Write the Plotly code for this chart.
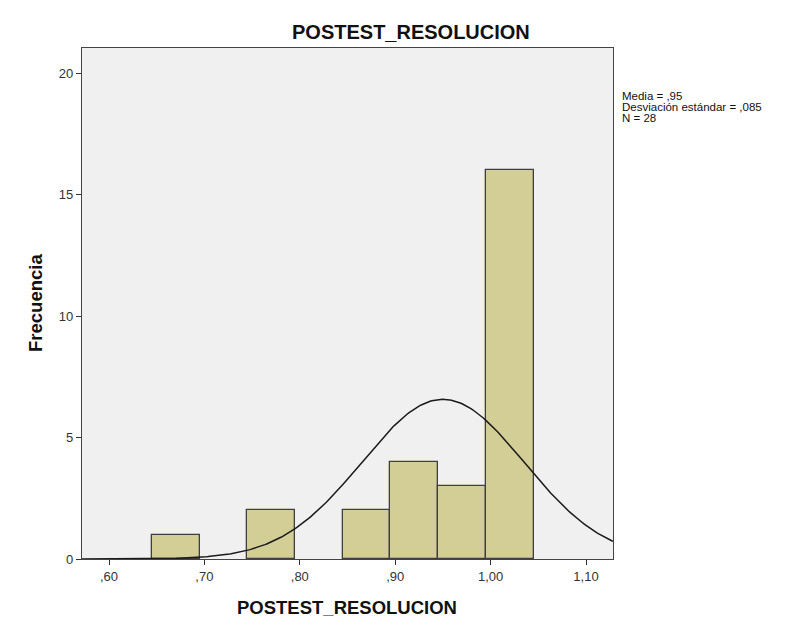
import numpy as np
import plotly.graph_objects as go

# Data
bin_centers = [0.67, 0.77, 0.87, 0.92, 0.97, 1.02]
counts = [1, 2, 2, 4, 3, 16]
bin_width = 0.05
mean_val = 0.95
sd_val = 0.085
n_val = 28
x_tickvals = [0.60, 0.70, 0.80, 0.90, 1.00, 1.10]
x_ticktext = [",60", ",70", ",80", ",90", "1,00", "1,10"]
y_tickvals = [0, 5, 10, 15, 20]
x_range = [0.5717, 1.1283]
y_range = [0, 21.03]
stat_lines = ["Media = ,95", "Desviación estándar = ,085", "N = 28"]

# Fitted normal curve from the reported statistics
xc = np.linspace(x_range[0], x_range[1], 300)
yc = n_val * bin_width / (sd_val * np.sqrt(2 * np.pi)) * np.exp(-0.5 * ((xc - mean_val) / sd_val) ** 2)

L, R, T, B = 82, 193, 48, 75
W, H = 806, 634
pw, ph = W - L - R, H - T - B

fig = go.Figure()
fig.add_trace(go.Bar(
    x=bin_centers, y=counts, width=bin_width,
    marker=dict(color="#D2CE96", line=dict(color="#3F3F3F", width=1.3)),
    hoverinfo="x+y",
))
fig.add_trace(go.Scatter(
    x=xc, y=yc, mode="lines",
    line=dict(color="#1A1A1A", width=1.5), hoverinfo="skip",
))

fig.update_layout(
    width=W, height=H,
    margin=dict(l=L, r=R, t=T, b=B),
    paper_bgcolor="white", plot_bgcolor="#F0F0F0",
    showlegend=False, bargap=0,
    font=dict(family="Arial, Liberation Sans, sans-serif", color="#222222"),
    xaxis=dict(
        range=x_range, tickvals=x_tickvals, ticktext=x_ticktext,
        ticks="outside", ticklen=5, tickwidth=1.3, tickcolor="#333333",
        showgrid=False, zeroline=False,
        showline=True, linecolor="#444444", linewidth=1.3, mirror=True,
        tickfont=dict(size=13, color="#333333"),
    ),
    yaxis=dict(
        range=y_range, tickvals=y_tickvals,
        ticks="outside", ticklen=5, tickwidth=1.3, tickcolor="#333333",
        showgrid=False, zeroline=False,
        showline=True, linecolor="#444444", linewidth=1.3, mirror=True,
        tickfont=dict(size=13, color="#333333"),
    ),
)

def px_x(px):
    return (px - L) / pw

def px_y(py):
    return 1 - (py - T) / ph

# Chart title
fig.add_annotation(
    xref="paper", yref="paper", x=px_x(411), y=px_y(32),
    xanchor="center", yanchor="middle",
    text="<b>POSTEST_RESOLUCION</b>", showarrow=False,
    font=dict(size=20, color="#111111"),
)
# X axis title
fig.add_annotation(
    xref="paper", yref="paper", x=px_x(347), y=px_y(607),
    xanchor="center", yanchor="middle",
    text="<b>POSTEST_RESOLUCION</b>", showarrow=False,
    font=dict(size=18.5, color="#111111"),
)
# Y axis title
fig.add_annotation(
    xref="paper", yref="paper", x=px_x(35), y=px_y(303),
    xanchor="center", yanchor="middle", textangle=-90,
    text="<b>Frecuencia</b>", showarrow=False,
    font=dict(size=18.5, color="#111111"),
)

# Statistics text
for i, line in enumerate(stat_lines):
    fig.add_annotation(
        xref="paper", yref="paper",
        x=px_x(621), y=px_y(96 + i * 11),
        xanchor="left", yanchor="middle", align="left",
        text=line, showarrow=False, borderpad=0,
        font=dict(size=11.5, color="#111111"),
    )

fig.write_html("out.html")
